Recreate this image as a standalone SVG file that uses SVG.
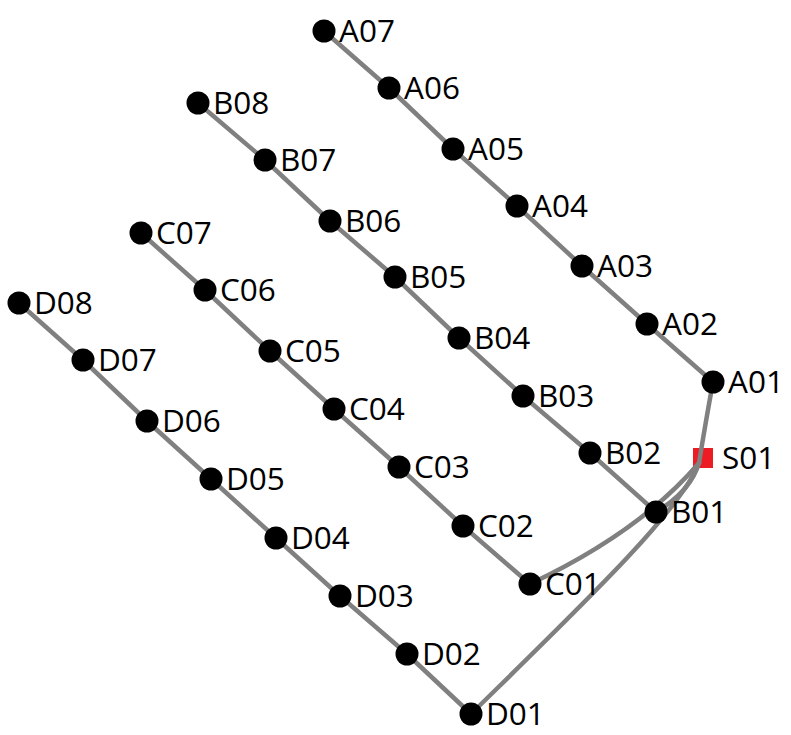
<svg xmlns="http://www.w3.org/2000/svg" width="791" height="735" viewBox="0 0 791 735">
<style>
.e{fill:none;stroke:#808080;stroke-width:4.5;stroke-linecap:round;stroke-linejoin:round}
.n circle{fill:#000}
.n text,.s text{font-family:"Open Sans","Liberation Sans",sans-serif;font-size:31.5px;fill:#000}
.s rect{fill:#ed1c24}
</style>
<rect width="791" height="735" fill="#fff"/>
<g id="connectors">
<polyline class="e" points="324,31 389,88 453,149 517,206 582,266 647,324 713,382"/>
<polyline class="e" points="198,103 265,160 330,221 395,277 459,338 523,396 590,453 656,512"/>
<polyline class="e" points="141,233 205,290 270,351 334,409 399,467 463,526 530,584"/>
<polyline class="e" points="19,303 83,360 147,421 211,479 276,538 340,596 407,654 471,714"/>
</g>
<g id="S01" class="s"><rect x="693" y="448" width="20" height="20"/><text x="722" y="469">S01</text></g>
<g id="connectors-s">
<path class="e" d="M713,382 Q706,420 699,463"/>
<path class="e" d="M656,512 Q690,492 699,463"/>
<path class="e" d="M530,584 Q640,532 699,463"/>
<path class="e" d="M471,714 C580,607 680,512 699,463"/>
</g>
<g id="A07" class="n"><circle cx="324" cy="31" r="11.5"/><text x="339" y="42">A07</text></g>
<g id="A06" class="n"><circle cx="389" cy="88" r="11.5"/><text x="404" y="99">A06</text></g>
<g id="A05" class="n"><circle cx="453" cy="149" r="11.5"/><text x="468" y="160">A05</text></g>
<g id="A04" class="n"><circle cx="517" cy="206" r="11.5"/><text x="532" y="217">A04</text></g>
<g id="A03" class="n"><circle cx="582" cy="266" r="11.5"/><text x="597" y="277">A03</text></g>
<g id="A02" class="n"><circle cx="647" cy="324" r="11.5"/><text x="662" y="335">A02</text></g>
<g id="A01" class="n"><circle cx="713" cy="382" r="11.5"/><text x="728" y="393">A01</text></g>
<g id="B08" class="n"><circle cx="198" cy="103" r="11.5"/><text x="213" y="114">B08</text></g>
<g id="B07" class="n"><circle cx="265" cy="160" r="11.5"/><text x="280" y="171">B07</text></g>
<g id="B06" class="n"><circle cx="330" cy="221" r="11.5"/><text x="345" y="232">B06</text></g>
<g id="B05" class="n"><circle cx="395" cy="277" r="11.5"/><text x="410" y="288">B05</text></g>
<g id="B04" class="n"><circle cx="459" cy="338" r="11.5"/><text x="474" y="349">B04</text></g>
<g id="B03" class="n"><circle cx="523" cy="396" r="11.5"/><text x="538" y="407">B03</text></g>
<g id="B02" class="n"><circle cx="590" cy="453" r="11.5"/><text x="605" y="464">B02</text></g>
<g id="B01" class="n"><circle cx="656" cy="512" r="11.5"/><text x="671" y="523">B01</text></g>
<g id="C07" class="n"><circle cx="141" cy="233" r="11.5"/><text x="156" y="244">C07</text></g>
<g id="C06" class="n"><circle cx="205" cy="290" r="11.5"/><text x="220" y="301">C06</text></g>
<g id="C05" class="n"><circle cx="270" cy="351" r="11.5"/><text x="285" y="362">C05</text></g>
<g id="C04" class="n"><circle cx="334" cy="409" r="11.5"/><text x="349" y="420">C04</text></g>
<g id="C03" class="n"><circle cx="399" cy="467" r="11.5"/><text x="414" y="478">C03</text></g>
<g id="C02" class="n"><circle cx="463" cy="526" r="11.5"/><text x="478" y="537">C02</text></g>
<g id="C01" class="n"><circle cx="530" cy="584" r="11.5"/><text x="545" y="595">C01</text></g>
<g id="D08" class="n"><circle cx="19" cy="303" r="11.5"/><text x="34" y="314">D08</text></g>
<g id="D07" class="n"><circle cx="83" cy="360" r="11.5"/><text x="98" y="371">D07</text></g>
<g id="D06" class="n"><circle cx="147" cy="421" r="11.5"/><text x="162" y="432">D06</text></g>
<g id="D05" class="n"><circle cx="211" cy="479" r="11.5"/><text x="226" y="490">D05</text></g>
<g id="D04" class="n"><circle cx="276" cy="538" r="11.5"/><text x="291" y="549">D04</text></g>
<g id="D03" class="n"><circle cx="340" cy="596" r="11.5"/><text x="355" y="607">D03</text></g>
<g id="D02" class="n"><circle cx="407" cy="654" r="11.5"/><text x="422" y="665">D02</text></g>
<g id="D01" class="n"><circle cx="471" cy="714" r="11.5"/><text x="486" y="725">D01</text></g>
</svg>
